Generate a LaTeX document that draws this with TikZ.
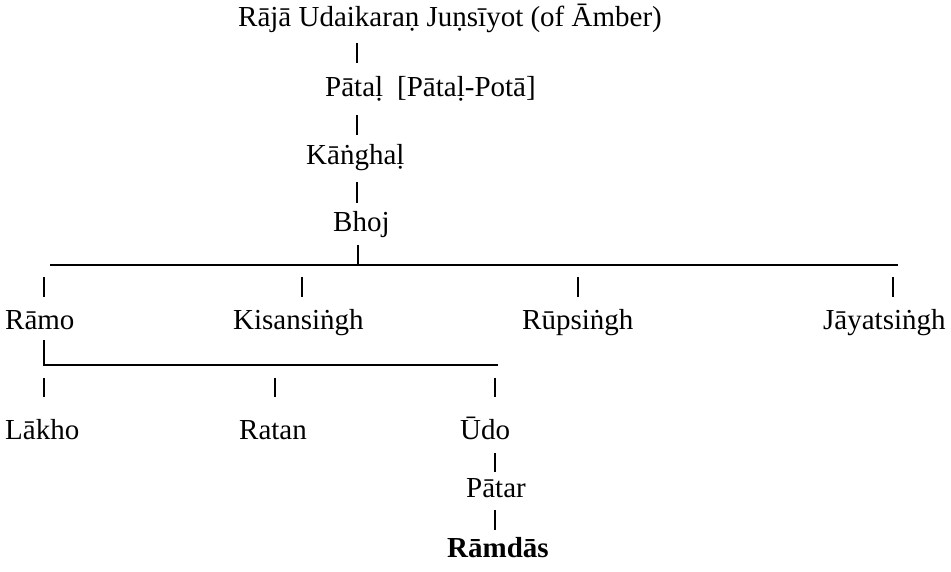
\documentclass[tikz,border=0pt]{standalone}
\usepackage{fontspec}
\setmainfont{Liberation Serif}
\begin{document}
\begin{tikzpicture}[x=1pt,y=-1pt,
  person/.style={anchor=base west, inner sep=0pt, font=\fontsize{29}{33}\selectfont},
  tickmark/.style={line width=1.4pt},
  rule/.style={line width=1.2pt}]
\useasboundingbox (0,0) rectangle (951,572);

% main line of descent
\node[person] (udai)   at (238,27)  {Rājā Udaikaraṇ Juṇsīyot (of Āmber)};
\node[person] (patal)  at (325,97)  {Pātaḷ};
\node[person] (patalb) at (397,97)  {[Pātaḷ-Potā]};
\node[person] (kanghal) at (306,165) {Kāṅghaḷ};
\node[person] (bhoj)   at (333,232) {Bhoj};

% sons of Bhoj
\node[person] (ramo)   at (5,330)   {Rāmo};
\node[person] (kisan)  at (233,330) {Kisansiṅgh};
\node[person] (rup)    at (522,330) {Rūpsiṅgh};
\node[person] (jayat)  at (823,330) {Jāyatsiṅgh};

% sons of Rāmo
\node[person] (lakho)  at (5,439)   {Lākho};
\node[person] (ratan)  at (239,439) {Ratan};
\node[person] (udo)    at (460,439) {Ūdo};
\node[person] (patar)  at (466,497) {Pātar};
\node[person, font=\fontsize{29}{33}\selectfont\bfseries] (ramdas) at (447,557) {Rāmdās};

% generation rules
\coordinate (bhojL) at (50,265);
\coordinate (bhojR) at (898,265);
\coordinate (bhojT) at (358,245);
\coordinate (ramoT) at (44,340);
\coordinate (ramoC) at (44,365);
\coordinate (ramoR) at (498,365);

\draw[rule] (bhojL) -- (bhojR);
\draw[tickmark] (bhojT) -- (bhojT |- bhojL);
\draw[rule] (ramoT) -- (ramoC) -- (ramoR);

% short upright strokes between names
\foreach \x/\a/\b in {357/43/63, 357/115/135, 357/182/203,
                      44/277/297, 302/277/297, 578/277/297, 893/277/297,
                      44/378/397, 275/378/397, 495/378/397,
                      495/453/472, 495/510/530}
  \draw[tickmark] (\x,\a) -- (\x,\b);
\end{tikzpicture}
\end{document}
